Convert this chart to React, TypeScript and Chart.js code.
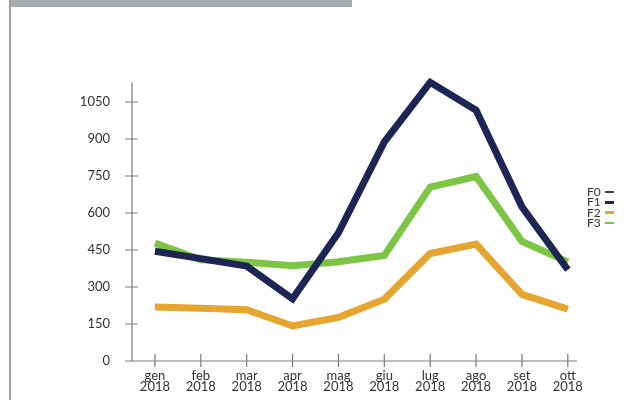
import React, { useEffect, useRef } from "react";
import { Chart, registerables } from "chart.js";

Chart.register(...registerables);

const months = ["gen", "feb", "mar", "apr", "mag", "giu", "lug", "ago", "set", "ott"];
const year = "2018";
const seriesNames = ["F0", "F1", "F2", "F3"];
const seriesColors = ["#3d3d3f", "#1d2554", "#e5a52f", "#7dc544"];
const f0: number[] = [];
const f1 = [445, 415, 385, 252, 520, 888, 1130, 1017, 625, 370];
const f2 = [219, 214, 208, 142, 177, 250, 436, 474, 270, 210];
const f3 = [478, 410, 400, 386, 402, 428, 705, 748, 485, 402];
const yTicks = [0, 150, 300, 450, 600, 750, 900, 1050];
const yMax = 1125;

const W = 627;
const H = 400;

const axesPlugin = {
  id: "crossAxes",
  afterDraw(chart: any) {
    const { ctx, chartArea } = chart;
    const xs = chart.scales.x;
    const ys = chart.scales.y;
    const y0 = ys.getPixelForValue(0);
    const xl = xs.getPixelForValue(xs.min);
    ctx.save();
    ctx.strokeStyle = "#7c7c7c";
    ctx.lineWidth = 1.2;
    ctx.beginPath();
    ctx.moveTo(xl, chartArea.top - 1);
    ctx.lineTo(xl, y0);
    ctx.moveTo(xl - 7, y0);
    ctx.lineTo(chartArea.right, y0);
    yTicks.forEach((v) => {
      if (v === 0) return;
      const py = ys.getPixelForValue(v);
      ctx.moveTo(xl - 7, py);
      ctx.lineTo(xl + 6, py);
    });
    months.forEach((_, i) => {
      const px = xs.getPixelForValue(i);
      ctx.moveTo(px, y0 - 7);
      ctx.lineTo(px, y0 + 6);
    });
    ctx.stroke();
    ctx.restore();
  },
};

export default function App() {
  const canvasRef = useRef<HTMLCanvasElement | null>(null);

  useEffect(() => {
    const canvas = canvasRef.current;
    if (!canvas) return;
    const allData = [f0, f1, f2, f3];
    const chart = new Chart(canvas, {
      type: "line",
      data: {
        datasets: seriesNames.map((name, si) => ({
          label: name,
          data: allData[si].map((v, i) => ({ x: i, y: v })),
          borderColor: seriesColors[si],
          backgroundColor: seriesColors[si],
          borderWidth: 7,
          pointRadius: 0,
          tension: 0,
          fill: false,
          clip: false as any,
          borderJoinStyle: "miter" as const,
          borderCapStyle: "butt" as const,
        })),
      },
      options: {
        animation: false,
        responsive: false,
        devicePixelRatio: 1,
        layout: { padding: { left: 0, right: 50, top: 83.5, bottom: 0 } },
        plugins: {
          legend: { display: false },
          tooltip: { enabled: false },
        },
        scales: {
          x: {
            type: "linear",
            min: -0.5,
            max: 9.2,
            grid: { display: false },
            border: { display: false },
            afterFit: (scale: any) => {
              scale.height = 39;
            },
            afterBuildTicks: (scale: any) => {
              scale.ticks = months.map((_, i) => ({ value: i }));
            },
            ticks: {
              autoSkip: false,
              maxRotation: 0,
              padding: 1,
              color: "#333333",
              font: { family: "Lato", size: 13, lineHeight: "11.5px" },
              callback: (v: any) => [months[Number(v)], year],
            },
          },
          y: {
            type: "linear",
            min: 0,
            max: yMax,
            grid: { display: false },
            border: { display: false },
            afterFit: (scale: any) => {
              scale.width = 132;
            },
            afterBuildTicks: (scale: any) => {
              scale.ticks = yTicks.map((v) => ({ value: v }));
            },
            ticks: {
              padding: 14,
              color: "#333333",
              font: { family: "Lato", size: 13 },
              callback: (v: any) => String(v),
            },
          },
        },
      },
      plugins: [axesPlugin],
    });
    return () => chart.destroy();
  }, []);

  return (
    <div
      style={{
        position: "fixed",
        left: 0,
        top: 0,
        width: W,
        height: H,
        background: "#ffffff",
        overflow: "hidden",
      }}
    >
      <div
        style={{
          position: "absolute",
          left: 9,
          top: 0,
          width: 343,
          height: 7,
          background: "#a8acae",
        }}
      />
      <div
        style={{
          position: "absolute",
          left: 9,
          top: 0,
          width: 2,
          height: H,
          background: "#a0a0a0",
        }}
      />
      <canvas
        ref={canvasRef}
        width={W}
        height={H}
        style={{ position: "absolute", left: 0, top: 0, width: W, height: H }}
      />
      <div
        style={{
          position: "absolute",
          left: 587,
          top: 187,
          fontFamily: "Lato",
          fontSize: 12,
          color: "#333333",
        }}
      >
        {seriesNames.map((name, i) => (
          <div
            key={name}
            style={{ height: 10.3, lineHeight: "10.3px", display: "flex", alignItems: "center" }}
          >
            <span style={{ width: 18 }}>{name}</span>
            <span
              style={{
                display: "inline-block",
                width: 9,
                height: 2.5,
                background: seriesColors[i],
              }}
            />
          </div>
        ))}
      </div>
    </div>
  );
}
